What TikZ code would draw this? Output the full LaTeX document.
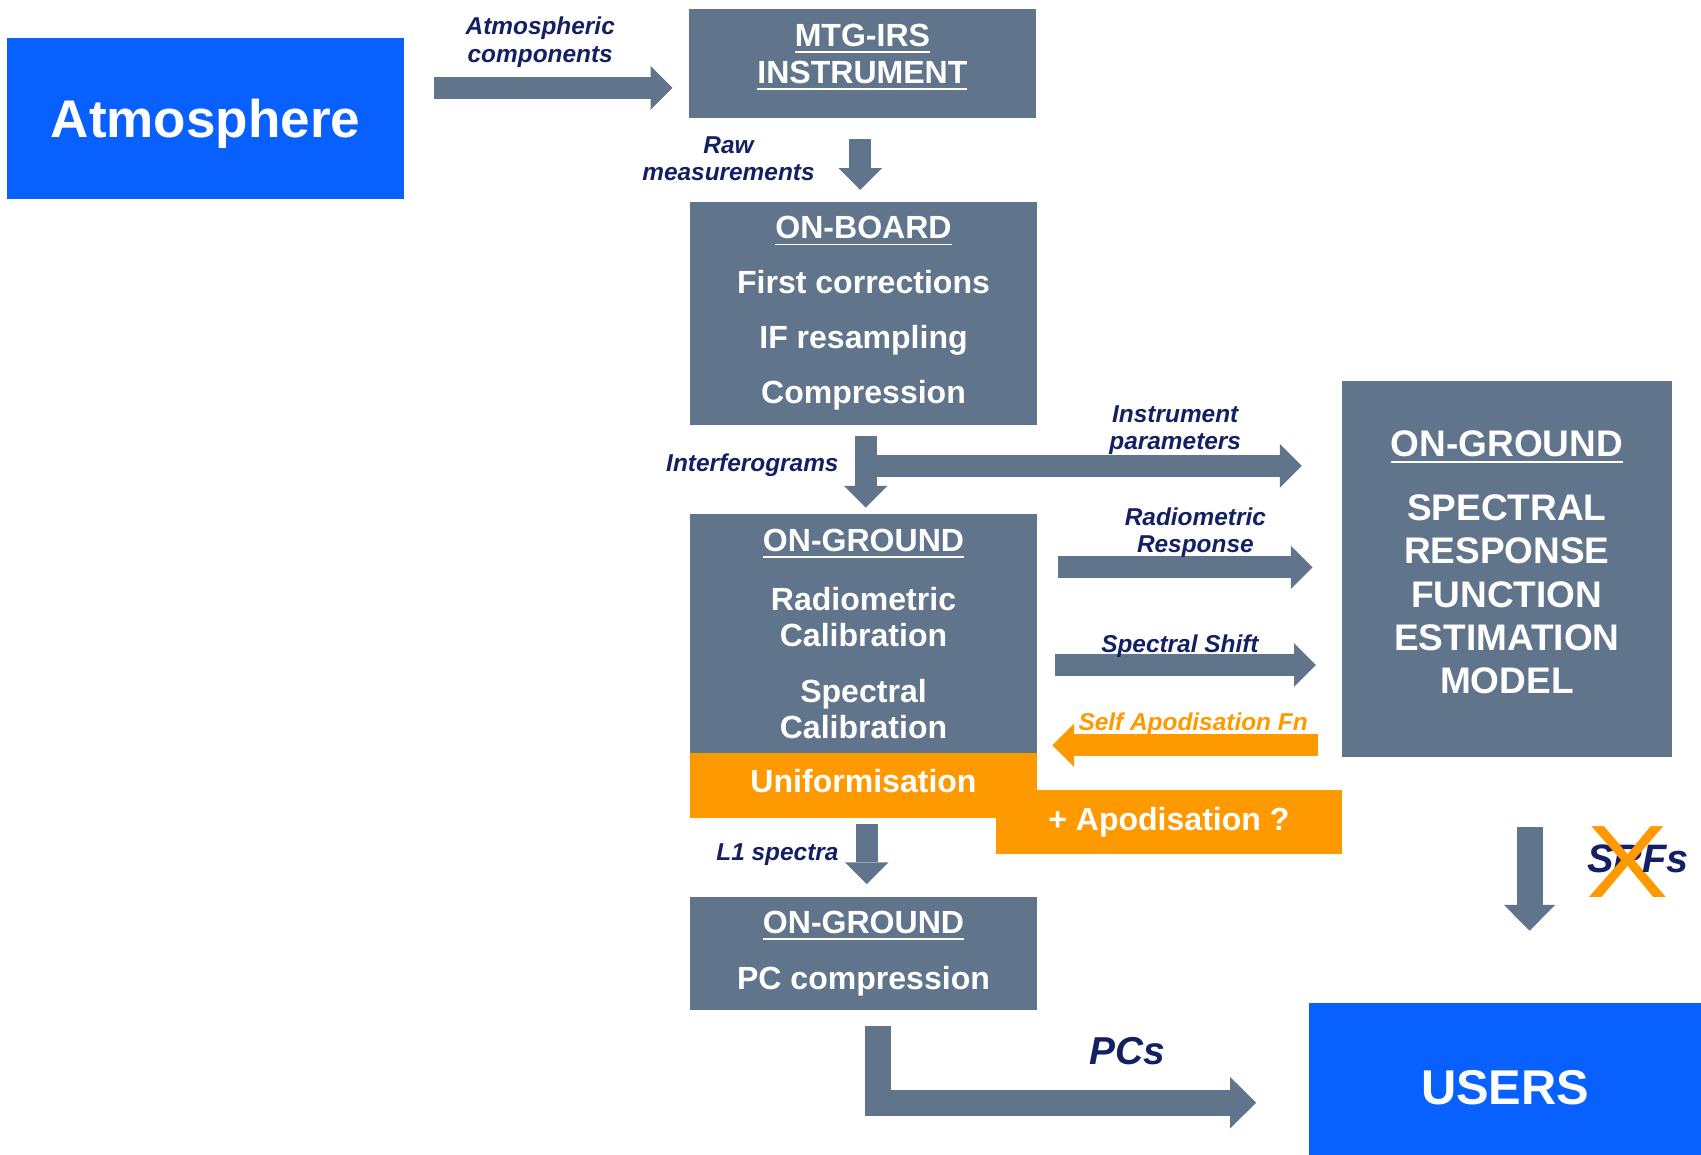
\documentclass[tikz,border=0pt]{standalone}
\usepackage{fontspec}
\setmainfont{Liberation Sans}
\usetikzlibrary{arrows.meta, positioning}

\definecolor{steel}{RGB}{96,117,140}
\definecolor{skyblue}{RGB}{8,96,255}
\definecolor{apodorange}{RGB}{255,153,0}
\definecolor{inkblue}{RGB}{20,32,100}

\begin{document}
\begin{tikzpicture}[
    x=0.01cm, y=-0.01cm,
    block/.style={rectangle, fill=steel, text=white, align=center, inner sep=0pt, outer sep=0pt, font=\bfseries\fontsize{8.4}{9.4}\selectfont},
    endpoint/.style={block, fill=skyblue, text depth=0pt, font=\bfseries\fontsize{13.9}{16}\selectfont},
    apod/.style={block, fill=apodorange},
    flow/.style={draw=steel, line width=5.7pt, -{Triangle[length=5.7pt, width=11.4pt, line width=0pt]}},
    bigflow/.style={flow, line width=6.8pt, -{Triangle[length=6.8pt, width=13.5pt, line width=0pt]}},
    tag/.style={text=inkblue, inner sep=0pt, outer sep=0pt, align=center, font=\bfseries\itshape\fontsize{6.4}{7.2}\selectfont}
]
    \useasboundingbox (0,0) rectangle (1568,1064);
    \clip (0,0) rectangle (1568,1064);

    \node[endpoint, minimum width=3.65cm, minimum height=1.48cm] (atm) at (189.5,109) {Atmosphere};
    \node[block, minimum width=3.2cm, minimum height=1.01cm, text depth=5pt, font=\bfseries\fontsize{8.4}{9.7}\selectfont] (mtg) at (795,58.5) {\underline{MTG-IRS}\\\underline{INSTRUMENT}};
    \node[block, minimum width=3.2cm, minimum height=2.06cm, font=\bfseries\fontsize{8.4}{14.4}\selectfont] (onboard) at (796,289) {\underline{ON-BOARD}\\First corrections\\IF resampling\\Compression};
    \node[block, minimum width=3.2cm, minimum height=2.2cm] (ground) at (796,584) {\underline{ON-GROUND}\\[6.3pt]Radiometric\\Calibration\\[5.1pt]Spectral\\Calibration};
    \node[apod, minimum width=3.19cm, minimum height=0.59cm] (apodis) at (1077.5,757.5) {+ Apodisation ?};
    \node[apod, minimum width=3.2cm, minimum height=0.6cm, text depth=2.2pt] (unif) at (796,724) {Uniformisation};
    \node[block, minimum width=3.2cm, minimum height=1.04cm, font=\bfseries\fontsize{8.4}{14.8}\selectfont] (pcbox) at (796,879) {\underline{ON-GROUND}\\PC compression};
    \node[block, minimum width=3.04cm, minimum height=3.47cm, text depth=3.7pt, font=\bfseries\fontsize{9.7}{11.3}\selectfont] (srf) at (1389,524.5) {\underline{ON-GROUND}\\[5.6pt]SPECTRAL\\RESPONSE\\FUNCTION\\ESTIMATION\\MODEL};
    \node[endpoint, minimum width=3.61cm, minimum height=1.54cm, font=\bfseries\fontsize{12.8}{15}\selectfont] (users) at (1387.5,1002) {USERS};

    \draw[flow] ([shift={(28,-28)}]atm.east) -- node[tag, above=0.19cm, xshift=-0.12cm] {Atmospheric\\components} ([shift={(-15,22.5)}]mtg.west);
    \draw[flow] ([shift={(-2,19)}]mtg.south) -- node[tag, left=0.42cm, yshift=0.05cm] {Raw\\measurements} ([shift={(-3,-11)}]onboard.north);
    \draw[flow] ([shift={(2,10)}]onboard.south) -- node[tag, left=0.25cm, yshift=0.06cm] {Interferograms} ([shift={(2,-6)}]ground.north);
    \draw[flow] ([shift={(2,37.5)}]onboard.south) -- node[tag, pos=0.71, above=0.105cm] {Instrument\\parameters} ([shift={(-37,-95)}]srf.west);
    \draw[flow] ([shift={(19,-61)}]ground.east) -- node[tag, pos=0.54, above=0.09cm] {Radiometric\\Response} ([shift={(-27,-1.5)}]srf.west);
    \draw[flow] ([shift={(16,29)}]ground.east) -- node[tag, pos=0.48, above=0.07cm] {Spectral Shift} ([shift={(-24,88.5)}]srf.west);
    \draw[flow, draw=apodorange] ([shift={(-22,162.5)}]srf.west) -- node[tag, text=apodorange, pos=0.47, above=0.09cm] {Self Apodisation Fn} ([shift={(14,103)}]ground.east);
    \draw[flow] ([shift={(3,6)}]unif.south) -- node[tag, left=0.26cm] {L1 spectra} ([shift={(3,-12)}]pcbox.north);
    \draw[bigflow] ([shift={(21,64)}]srf.south) -- node[tag, right=0.53cm, yshift=0.07cm, font=\bfseries\itshape\fontsize{10.4}{12}\selectfont] {S\ooalign{R\cr\hidewidth\raisebox{-6.4pt}{\fontsize{27}{27}\selectfont\mdseries\upshape\color{apodorange}\scalebox{1.2}[1]{X}}\hidewidth\cr}Fs} ([shift={(22.5,-67)}]users.north);
    \draw[bigflow] ([shift={(13,15)}]pcbox.south) |- node[tag, pos=0.83, above=0.345cm, font=\bfseries\itshape\fontsize{10.2}{12}\selectfont] {PCs} ([shift={(-49,14.5)}]users.west);
\end{tikzpicture}
\end{document}
